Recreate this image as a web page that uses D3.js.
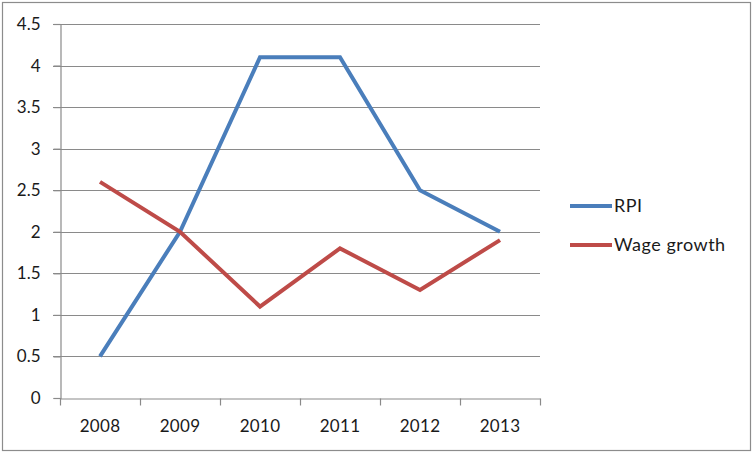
<!DOCTYPE html>
<html><head><meta charset="utf-8">
<script src="https://cdn.jsdelivr.net/npm/d3@7"></script>
<style>body{margin:0;background:#fff}svg{display:block}text{font-family:Lato,"Open Sans",sans-serif;fill:#1a1a1a}</style>
</head><body><svg id="c" width="754" height="454"></svg>
<script>
const years = ["2008","2009","2010","2011","2012","2013"];
const rpi = [0.5, 2.0, 4.1, 4.1, 2.5, 2.0];
const wage = [2.6, 2.0, 1.1, 1.8, 1.3, 1.9];
const yTicks = [0,0.5,1,1.5,2,2.5,3,3.5,4,4.5];
const seriesNames = ["RPI","Wage growth"];
const seriesColors = ["#4A7EBB","#BE4B48"];

const svg = d3.select("#c");
svg.append("rect").attr("x",2.5).attr("y",2.5).attr("width",748).attr("height",448)
  .attr("fill","#fff").attr("stroke","#8c8c8c").attr("stroke-width",1.2);

const x = d3.scaleBand().domain(years).range([60,540]);
const y = d3.scaleLinear().domain([0,4.5]).range([398,24]);

// gridlines
svg.append("g").selectAll("line").data(yTicks.slice(1)).join("line")
  .attr("x1",53).attr("x2",540).attr("y1",d=>Math.round(y(d))+0.5).attr("y2",d=>Math.round(y(d))+0.5)
  .attr("stroke","#8a8a8a").attr("stroke-width",1.2);

// y axis
const ya = svg.append("g").attr("transform","translate(60.5,0)")
  .call(d3.axisLeft(y).tickValues(yTicks).tickSize(7).tickPadding(13).tickFormat(d=>String(d)));
ya.select(".domain").attr("stroke","#8a8a8a").attr("stroke-width",1.2);
ya.selectAll(".tick line").attr("stroke","#8a8a8a").attr("stroke-width",1.2);
ya.selectAll("text").attr("font-size",17).attr("font-family","Lato").attr("fill","#1a1a1a");

// x axis
const xa = svg.append("g").attr("transform","translate(0,398.5)")
  .call(d3.axisBottom(x).tickSize(0).tickPadding(21));
xa.select(".domain").attr("stroke","#8a8a8a").attr("stroke-width",1.2);
xa.selectAll("text").attr("font-size",17).attr("font-family","Lato").attr("fill","#1a1a1a").attr("letter-spacing",0.3);
// category boundary ticks
const bounds = years.map(d=>x(d)).concat([x.range()[1]]);
xa.append("g").selectAll("line").data(bounds).join("line")
  .attr("x1",d=>Math.round(d)+0.5).attr("x2",d=>Math.round(d)+0.5).attr("y1",0).attr("y2",7)
  .attr("stroke","#8a8a8a").attr("stroke-width",1.2);

const line = d3.line().x((d,i)=>x(years[i])+x.bandwidth()/2).y(d=>y(d));
[rpi,wage].forEach((s,i)=>{
  svg.append("path").datum(s).attr("d",line).attr("fill","none")
    .attr("stroke",seriesColors[i]).attr("stroke-width",4).attr("stroke-linejoin","miter");
});

// legend
const lg = svg.append("g");
seriesNames.forEach((n,i)=>{
  const ly = 206 + i*39;
  lg.append("line").attr("x1",570).attr("x2",612).attr("y1",ly).attr("y2",ly)
    .attr("stroke",seriesColors[i]).attr("stroke-width",4);
  lg.append("text").attr("x",614).attr("y",ly).attr("dy","0.36em").attr("font-size",18)
    .attr("letter-spacing",0.5).text(n);
});
</script></body></html>
